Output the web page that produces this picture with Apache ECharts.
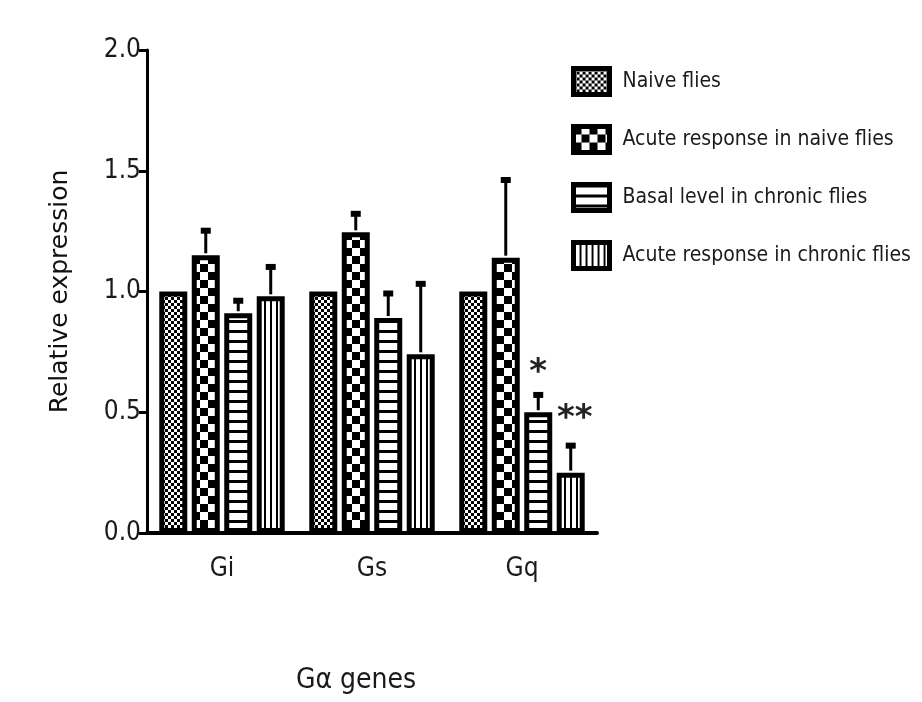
<!DOCTYPE html>
<html>
<head>
<meta charset="utf-8">
<script src="https://cdn.jsdelivr.net/npm/echarts@6/dist/echarts.min.js"></script>
<style>
html,body{margin:0;padding:0;background:#fff;}
#chart{width:922px;height:702px;}
</style>
</head>
<body>
<div id="chart"></div>
<script>
// ---- data ----
var categories = ['Gi', 'Gs', 'Gq'];
var seriesNames = ['Naive flies', 'Acute response in naive flies', 'Basal level in chronic flies', 'Acute response in chronic flies'];
var naive = [1.0, 1.0, 1.0];
var acuteNaive = [1.15, 1.245, 1.14];
var basalChronic = [0.91, 0.89, 0.50];
var acuteChronic = [0.98, 0.74, 0.25];
var naiveErr = [0, 0, 0];
var acuteNaiveErr = [0.11, 0.085, 0.33];
var basalChronicErr = [0.06, 0.11, 0.08];
var acuteChronicErr = [0.13, 0.30, 0.12];
// significance marks: [categoryIndex, seriesIndex, yValue, text]
var sigMarks = [[2, 2, 0.66, '*'], [2, 3, 0.47, '**']];
var yTicks = [0, 0.5, 1.0, 1.5, 2.0];

var values = [naive, acuteNaive, basalChronic, acuteChronic];
var errs = [naiveErr, acuteNaiveErr, basalChronicErr, acuteChronicErr];

// ---- style constants ----
var BAR_W = 28;
var BAR_GAP = 0.16;
var NARROW = '"Liberation Sans Narrow", "DejaVu Sans Condensed", Arial, sans-serif';

function makePattern(type) {
  var c = document.createElement('canvas');
  var ctx;
  if (type === 0) {
    c.width = 6; c.height = 6; ctx = c.getContext('2d');
    ctx.fillStyle = '#fff'; ctx.fillRect(0, 0, 6, 6);
    ctx.fillStyle = '#000';
    ctx.fillRect(0, 0, 3, 3); ctx.fillRect(3, 3, 3, 3);
  } else if (type === 1) {
    c.width = 16; c.height = 16; ctx = c.getContext('2d');
    ctx.fillStyle = '#fff'; ctx.fillRect(0, 0, 16, 16);
    ctx.fillStyle = '#000';
    ctx.fillRect(0, 0, 8, 8); ctx.fillRect(8, 8, 8, 8);
  } else if (type === 2) {
    c.width = 4; c.height = 10; ctx = c.getContext('2d');
    ctx.fillStyle = '#fff'; ctx.fillRect(0, 0, 4, 10);
    ctx.fillStyle = '#000'; ctx.fillRect(0, 0, 4, 3);
  } else {
    c.width = 6; c.height = 4; ctx = c.getContext('2d');
    ctx.fillStyle = '#fff'; ctx.fillRect(0, 0, 6, 4);
    ctx.fillStyle = '#000'; ctx.fillRect(0, 0, 2, 4);
  }
  return { image: c, repeat: 'repeat' };
}

function barOffset(si) {
  var step = BAR_W * (1 + BAR_GAP);
  return (si - 1.5) * step;
}

var series = [];
for (var s = 0; s < 4; s++) {
  series.push({
    name: seriesNames[s],
    type: 'bar',
    data: values[s],
    barWidth: BAR_W,
    barGap: (BAR_GAP * 100) + '%',
    itemStyle: { color: makePattern(s), borderColor: '#000', borderWidth: 5 },
    emphasis: { disabled: true },
    z: 2
  });
}

// error bars (upper only)
var errData = [];
for (var s2 = 0; s2 < 4; s2++) {
  for (var k = 0; k < categories.length; k++) {
    if (errs[s2][k] > 0) errData.push([k, values[s2][k], errs[s2][k], s2]);
  }
}
series.push({
  type: 'custom',
  name: 'err',
  data: errData,
  z: 3,
  silent: true,
  renderItem: function (params, api) {
    var cat = api.value(0), v = api.value(1), e = api.value(2), si = api.value(3);
    var p0 = api.coord([cat, v]);
    var p1 = api.coord([cat, v + e]);
    var x = p0[0] + barOffset(si);
    return {
      type: 'group',
      children: [
        { type: 'line', shape: { x1: x, y1: p0[1] - 2, x2: x, y2: p1[1] }, style: { stroke: '#000', lineWidth: 3 } },
        { type: 'rect', shape: { x: x - 5, y: p1[1] - 1, width: 10, height: 6 }, style: { fill: '#000' } }
      ]
    };
  }
});

// significance stars
series.push({
  type: 'custom',
  name: 'sig',
  data: sigMarks,
  z: 4,
  silent: true,
  renderItem: function (params, api) {
    var cat = api.value(0), si = api.value(1), y = api.value(2);
    var txt = sigMarks[params.dataIndex][3];
    var p = api.coord([cat, y]);
    return {
      type: 'text',
      x: p[0] + barOffset(si) + (txt.length > 1 ? 4 : 0),
      y: p[1],
      style: {
        text: txt, fill: '#222', font: 'bold 34px "DejaVu Sans", sans-serif',
        align: 'center', verticalAlign: 'middle'
      }
    };
  }
});

var chart = echarts.init(document.getElementById('chart'), null, { renderer: 'canvas' });
chart.setOption({
  backgroundColor: '#fff',
  animation: false,
  grid: { left: 147, top: 50, right: 325, bottom: 169, containLabel: false },
  legend: {
    data: seriesNames,
    orient: 'vertical',
    left: 566,
    top: 61,
    icon: 'rect',
    itemWidth: 36,
    itemHeight: 26,
    itemGap: 27,
    selectedMode: false,
    itemStyle: { borderColor: '#000', borderWidth: 5 },
    textStyle: { fontFamily: NARROW, fontSize: 21, color: '#1a1a1a', padding: [0, 0, 0, 8] }
  },
  xAxis: {
    type: 'category',
    data: categories,
    axisLine: { lineStyle: { color: '#000', width: 4 } },
    axisTick: { alignWithLabel: true, length: 12, lineStyle: { color: '#000', width: 3 } },
    axisLabel: { margin: 23, fontFamily: NARROW, fontSize: 26, color: '#1a1a1a' },
    name: 'Gα genes',
    nameLocation: 'middle',
    nameGap: 134,
    nameTextStyle: { fontFamily: NARROW, fontSize: 28, color: '#1a1a1a', padding: [0, 32, 0, 0] }
  },
  yAxis: {
    type: 'value',
    min: yTicks[0],
    max: yTicks[yTicks.length - 1],
    interval: yTicks[1] - yTicks[0],
    splitLine: { show: false },
    axisLine: { show: true, lineStyle: { color: '#000', width: 3 } },
    axisTick: { show: true, length: 8, lineStyle: { color: '#000', width: 3 } },
    axisLabel: { margin: 6, fontFamily: NARROW, fontSize: 26, color: '#1a1a1a', formatter: function (v) { return v.toFixed(1); } },
    name: 'Relative expression',
    nameLocation: 'middle',
    nameRotate: 90,
    nameGap: 74,
    nameTextStyle: { fontFamily: '"DejaVu Sans", sans-serif', fontSize: 25, color: '#111' }
  },
  series: series
});
</script>
</body>
</html>
